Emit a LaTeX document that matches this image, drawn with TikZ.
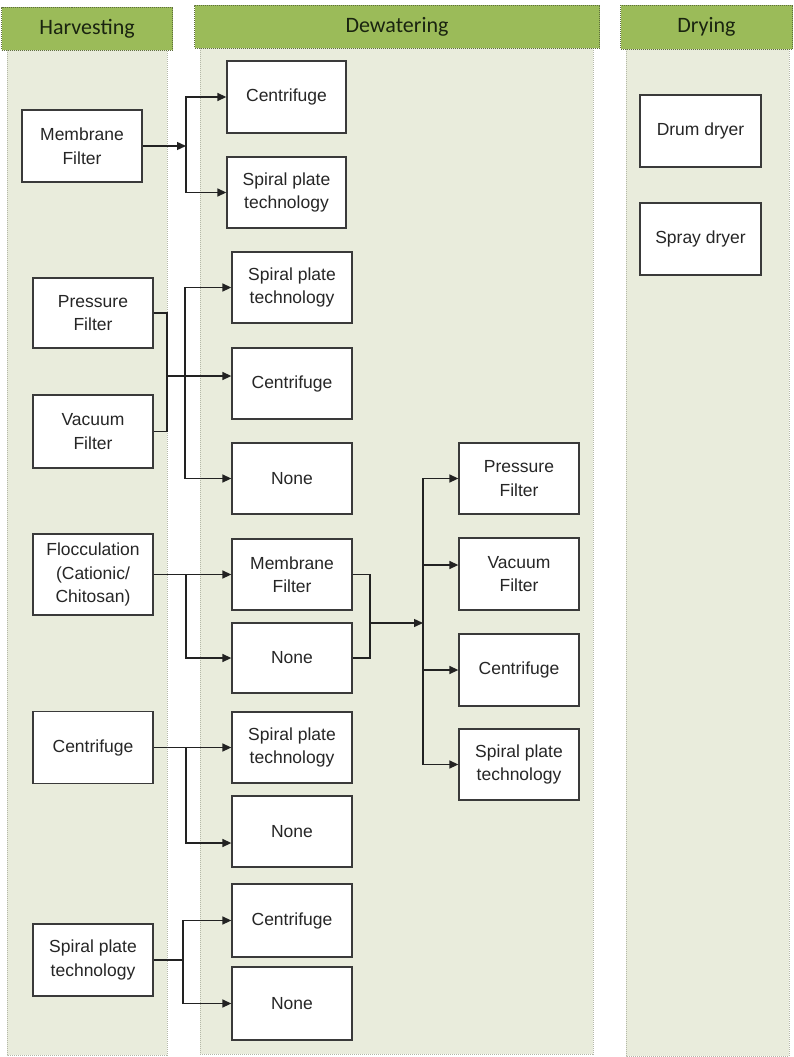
\documentclass[tikz,border=0pt]{standalone}
\usepackage{fontspec}
\usetikzlibrary{arrows.meta,calc}
\newfontfamily\boxfont{Liberation Sans}
\newfontfamily\hdrfont{Carlito}
\definecolor{hdrgreen}{HTML}{9BBB59}
\definecolor{hdredge}{HTML}{5E6E3E}
\definecolor{lanefill}{HTML}{E9ECDC}
\definecolor{laneedge}{HTML}{B4B8A8}
\definecolor{boxline}{HTML}{3A3A3A}
\definecolor{linecol}{HTML}{222222}
\definecolor{boxtext}{HTML}{262626}
\definecolor{hdrtext}{HTML}{1A2410}
\tikzset{
  lane/.style={fill=lanefill, draw=laneedge, line width=0.9pt, dash pattern=on 1pt off 1pt},
  hdr/.style={fill=hdrgreen, draw=hdredge, line width=0.9pt, dash pattern=on 1pt off 1pt,
    font={\hdrfont\fontsize{22}{24}\selectfont}, text=hdrtext, inner sep=0pt},
  box/.style={draw=boxline, fill=white, line width=1.3pt, minimum width=120pt,
    minimum height=72pt, align=center, inner sep=2pt, text=boxtext,
    font={\boxfont\fontsize{17.5}{23.5}\selectfont}},
  link/.style={draw=linecol, line width=1.4pt},
  arr/.style={link, -{Triangle[length=9pt,width=8pt]}}
}
\begin{document}
\begin{tikzpicture}[x=1pt,y=-1pt]
\useasboundingbox (0,0) rectangle (793,1057);
\fill[white] (0,0) rectangle (793,1057);

% lanes
\draw[lane] (7,50) rectangle (167,1055);
\draw[lane] (200,48) rectangle (593,1054);
\draw[lane] (626,49) rectangle (789,1056);

% lane headers
\node[hdr, minimum width=171pt, minimum height=43pt] (hdrH) at (87,28.5) {Harvesting};
\node[hdr, minimum width=405pt, minimum height=43pt] (hdrD) at (397,26.5) {Dewatering};
\node[hdr, minimum width=172pt, minimum height=44pt] (hdrY) at (706.5,27) {Drying};

% harvesting
\node[box] (hMem) at (82,146) {Membrane\\Filter};
\node[box, minimum height=70pt] (hPres) at (93,313) {Pressure\\Filter};
\node[box, minimum height=73pt] (hVac) at (93,431.5) {Vacuum\\Filter};
\node[box, minimum height=81pt] (hFloc) at (93,574.5) {Flocculation\\(Cationic/\\Chitosan)};
\node[box] (hCent) at (93,747.5) {Centrifuge};
\node[box] (hSpir) at (93,960) {Spiral plate\\technology};

% dewatering, first stage
\node[box, minimum width=119pt] (dCent1) at (286.5,97) {Centrifuge};
\node[box, minimum width=119pt, minimum height=71pt] (dSpir1) at (286.5,192.5) {Spiral plate\\technology};
\node[box, minimum height=71pt] (dSpir2) at (292,287.5) {Spiral plate\\technology};
\node[box, minimum height=71pt] (dCent2) at (292,383.5) {Centrifuge};
\node[box, minimum height=71pt] (dNone1) at (292,478.5) {None};
\node[box, minimum height=71pt] (dMem) at (292,574.5) {Membrane\\Filter};
\node[box, minimum height=70pt] (dNone2) at (292,658) {None};
\node[box, minimum height=71pt] (dSpir3) at (292,747.5) {Spiral plate\\technology};
\node[box, minimum height=71pt] (dNone3) at (292,831.5) {None};
\node[box, minimum height=73pt] (dCent3) at (292,920.5) {Centrifuge};
\node[box, minimum height=73pt] (dNone4) at (292,1003.5) {None};

% dewatering, second stage
\node[box, minimum height=71pt] (ePres) at (519,478.5) {Pressure\\Filter};
\node[box] (eVac) at (519,574) {Vacuum\\Filter};
\node[box] (eCent) at (519,670) {Centrifuge};
\node[box, minimum height=71pt] (eSpir) at (519,764.5) {Spiral plate\\technology};

% drying
\node[box, minimum width=121pt] (yDrum) at (700.5,131) {Drum dryer};
\node[box, minimum width=121pt] (ySpray) at (700.5,239) {Spray dryer};

% membrane filter branch
\coordinate (j1) at (186,146);
\draw[arr] (hMem.east) -- (j1);
\draw[arr] (j1) |- (dCent1.west);
\draw[arr] (j1) |- (dSpir1.west);

% pressure / vacuum filter branch
\coordinate (m2) at (167,376);
\draw[link] (hPres.east) -| (m2) |- (hVac.east);
\draw[arr] (m2) -- (m2 -| dCent2.west);
\coordinate (j2) at (185,376);
\draw[arr] (j2) |- (dSpir2.west);
\draw[arr] (j2) |- (dNone1.west);

% flocculation branch
\draw[arr] (hFloc.east) -- (dMem.west);
\coordinate (j3) at (186,574.5);
\draw[arr] (j3) |- (dNone2.west);
\coordinate (m3) at (370,623);
\draw[link] (dMem.east) -| (m3) |- (dNone2.east);
\coordinate (j4) at (423,623);
\draw[arr] (m3) -- (j4);
\draw[arr] (j4) |- (ePres.west);
\draw[arr] (j4) |- ([yshift=9pt]eVac.west);
\draw[arr] (j4) |- (eCent.west);
\draw[arr] (j4) |- (eSpir.west);

% centrifuge branch
\draw[arr] (hCent.east) -- (dSpir3.west);
\coordinate (j5) at (186,747.5);
\draw[arr] (j5) |- ([yshift=-11.5pt]dNone3.west);

% spiral plate branch
\coordinate (j6) at (183,960);
\draw[link] (hSpir.east) -- (j6);
\draw[arr] (j6) |- (dCent3.west);
\draw[arr] (j6) |- (dNone4.west);
\end{tikzpicture}
\end{document}
